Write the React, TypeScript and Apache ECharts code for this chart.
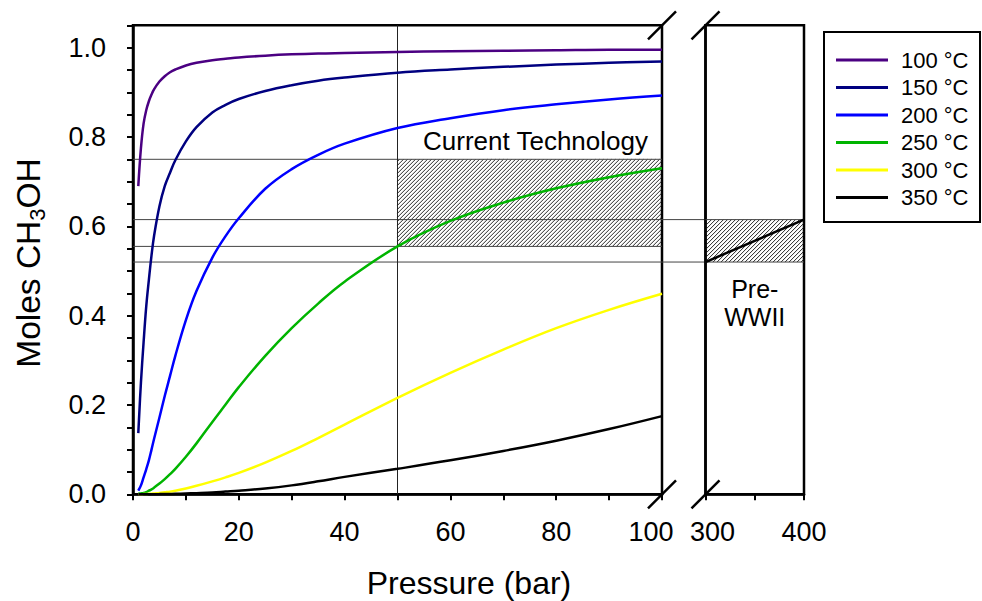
import React, { useEffect, useRef } from 'react';
import * as echarts from 'echarts';

const FONT = '"Liberation Sans", Arial, Helvetica, sans-serif';

// Pressure (bar) sample points for the low-pressure panel
const pressures = [1, 1.5, 2, 2.5, 3, 3.5, 4, 5, 6, 7, 8, 10, 12, 15, 17.5, 20, 25, 30, 35, 40, 50, 60, 70, 80, 90, 100];
// Moles CH3OH at equilibrium for each temperature
const moles100 = [0.69, 0.775, 0.83, 0.86, 0.88, 0.895, 0.907, 0.924, 0.936, 0.945, 0.951, 0.96, 0.966, 0.972, 0.975, 0.978, 0.982, 0.985, 0.987, 0.988, 0.99, 0.992, 0.993, 0.994, 0.995, 0.995];
const moles150 = [0.137, 0.25, 0.34, 0.42, 0.48, 0.535, 0.58, 0.645, 0.69, 0.72, 0.748, 0.79, 0.822, 0.855, 0.872, 0.885, 0.903, 0.916, 0.926, 0.933, 0.944, 0.951, 0.957, 0.962, 0.966, 0.969];
const moles200 = [0.008, 0.02, 0.038, 0.056, 0.076, 0.1, 0.125, 0.172, 0.22, 0.265, 0.31, 0.39, 0.455, 0.53, 0.578, 0.618, 0.684, 0.728, 0.76, 0.785, 0.82, 0.842, 0.86, 0.873, 0.884, 0.893];
const moles250 = [0.001, 0.002, 0.003, 0.005, 0.008, 0.011, 0.015, 0.024, 0.034, 0.045, 0.057, 0.084, 0.114, 0.162, 0.201, 0.24, 0.31, 0.372, 0.427, 0.476, 0.555, 0.612, 0.653, 0.685, 0.71, 0.73];
const moles300 = [0, 0, 0.0005, 0.0008, 0.001, 0.0015, 0.002, 0.003, 0.0045, 0.006, 0.008, 0.013, 0.019, 0.029, 0.038, 0.048, 0.071, 0.097, 0.126, 0.156, 0.216, 0.272, 0.324, 0.372, 0.413, 0.449];
const moles350 = [0, 0, 0, 0, 0, 0, 0.0002, 0.0004, 0.0006, 0.0008, 0.001, 0.0017, 0.0025, 0.004, 0.006, 0.008, 0.013, 0.02, 0.029, 0.039, 0.057, 0.076, 0.097, 0.12, 0.146, 0.175];

const seriesNames = ['100 °C', '150 °C', '200 °C', '250 °C', '300 °C', '350 °C'];
const seriesColors = ['#4B0082', '#000080', '#0000FF', '#00B400', '#FFFF00', '#000000'];
const seriesValues = [moles100, moles150, moles200, moles250, moles300, moles350];

// High-pressure panel (pre-WWII process), 350 °C
const preWarPressures = [300, 400];
const preWar350 = [0.52, 0.615];

// Hatched operating windows: [pMin, pMax, molesMin, molesMax]
const currentTechBox = [50, 100, 0.555, 0.75];
const preWarBox = [300, 400, 0.52, 0.615];

// Guide lines
const refLevels = [0.75, 0.615, 0.555, 0.52];
const bridgedLevels = [0.615, 0.52];
const refPressure = 50;

// Axis ranges
const yMax = 1.05;
const yTickStep = 0.05;
const leftRange = [0, 100];
const rightRange = [300, 400];

const hatchRender = (params: any, api: any) => {
  const tl = api.coord([api.value(0), api.value(3)]);
  const br = api.coord([api.value(1), api.value(2)]);
  const L = tl[0], T = tl[1], R = br[0], B = br[1];
  const step = 4;
  const children: any[] = [];
  for (let c = L + T + step * 0.5; c < R + B; c += step) {
    const xs = Math.max(L, c - B);
    const xe = Math.min(R, c - T);
    if (xe <= xs) continue;
    children.push({
      type: 'line',
      shape: { x1: xs, y1: c - xs, x2: xe, y2: c - xe },
      style: { stroke: '#111', lineWidth: 0.9 },
    });
  }
  return { type: 'group', children };
};

function measure(text: string, size: number) {
  const cv = document.createElement('canvas');
  const ctx = cv.getContext('2d')!;
  ctx.font = `${size}px "Liberation Sans", Arial, sans-serif`;
  return ctx.measureText(text).width;
}

export default function App() {
  const ref = useRef<HTMLDivElement>(null);
  useEffect(() => {
    if (!ref.current) return;
    const chart = echarts.init(ref.current, undefined, { renderer: 'svg' });

    const axisLineStyle = { color: '#000', width: 2.5 };
    const labelBase = { fontSize: 27, fontFamily: FONT, color: '#000' };

    const curveSeries = seriesNames.map((name, i) => ({
      name,
      type: 'line',
      xAxisIndex: 0,
      yAxisIndex: 0,
      data: pressures.map((p, j) => [p, seriesValues[i][j]]),
      symbol: 'none',
      showSymbol: false,
      smooth: 0.4,
      lineStyle: { color: seriesColors[i], width: 2.5 },
      itemStyle: { color: seriesColors[i] },
      z: 5,
      silent: true,
    }));

    const refSeries: any[] = refLevels.map((lv) => ({
      type: 'line',
      xAxisIndex: 0,
      yAxisIndex: 0,
      data: [[leftRange[0], lv], [leftRange[1], lv]],
      symbol: 'none',
      lineStyle: { color: '#444', width: 1 },
      z: 2,
      silent: true,
    }));
    refSeries.push({
      type: 'line',
      xAxisIndex: 0,
      yAxisIndex: 0,
      data: [[refPressure, 0], [refPressure, yMax]],
      symbol: 'none',
      lineStyle: { color: '#222', width: 1 },
      z: 2,
      silent: true,
    });
    bridgedLevels.forEach((lv) => {
      refSeries.push({
        type: 'line',
        xAxisIndex: 1,
        yAxisIndex: 1,
        data: [[rightRange[0], lv], [rightRange[1], lv]],
        symbol: 'none',
        lineStyle: { color: '#444', width: 1 },
        z: 2,
        silent: true,
      });
    });

    const option: any = {
      animation: false,
      backgroundColor: '#fff',
      grid: [
        { left: 133, top: 25.3, width: 529, height: 469, show: true, borderColor: '#000', borderWidth: 2.5, containLabel: false },
        { left: 705.5, top: 25.3, width: 98.5, height: 469, show: true, borderColor: '#000', borderWidth: 2.5, containLabel: false },
      ],
      xAxis: [
        {
          type: 'value', gridIndex: 0, min: leftRange[0], max: leftRange[1], interval: 10,
          axisLine: { show: true, lineStyle: axisLineStyle },
          axisTick: { show: true, length: 6, lineStyle: { color: '#000', width: 2 } },
          splitLine: { show: false },
          axisLabel: {
            ...labelBase, margin: 24, showMinLabel: true, showMaxLabel: true,
            formatter: (v: number) => (Math.round(v) % 20 === 0 ? (v === 100 ? '{r|100}' : String(v)) : ''),
            rich: { r: { ...labelBase, padding: [0, 22, 0, 0] } },
          },
        },
        {
          type: 'value', gridIndex: 1, min: rightRange[0], max: rightRange[1], interval: 50,
          axisLine: { show: true, lineStyle: axisLineStyle },
          axisTick: { show: true, length: 6, lineStyle: { color: '#000', width: 2 } },
          splitLine: { show: false },
          axisLabel: {
            ...labelBase, margin: 24, showMinLabel: true, showMaxLabel: true,
            formatter: (v: number) => (v === 300 ? '{l|300}' : v === 400 ? '400' : ''),
            rich: { l: { ...labelBase, padding: [0, 0, 0, 14] } },
          },
        },
      ],
      yAxis: [
        {
          type: 'value', gridIndex: 0, min: 0, max: yMax, interval: yTickStep,
          axisLine: { show: true, lineStyle: axisLineStyle },
          axisTick: { show: true, length: 6, lineStyle: { color: '#000', width: 2 } },
          splitLine: { show: false },
          axisLabel: {
            ...labelBase, margin: 27, showMaxLabel: true,
            formatter: (v: number) => (Math.round(v * 100) % 20 === 0 ? v.toFixed(1) : ''),
          },
        },
        {
          type: 'value', gridIndex: 1, min: 0, max: yMax, interval: yTickStep,
          axisLine: { show: true, lineStyle: axisLineStyle },
          axisTick: { show: false },
          splitLine: { show: false },
          axisLabel: { show: false },
        },
      ],
      legend: {
        data: seriesNames.map((n) => ({ name: n, icon: 'rect' })),
        orient: 'vertical',
        left: 831,
        top: 44,
        itemWidth: 52,
        itemHeight: 3,
        itemGap: 5.5,
        selectedMode: false,
        textStyle: { fontSize: 22, fontFamily: FONT, color: '#000', padding: [0, 0, 0, 8] },
      },
      series: [
        ...refSeries,
        {
          type: 'custom', xAxisIndex: 0, yAxisIndex: 0, renderItem: hatchRender,
          data: [currentTechBox], encode: { x: [0, 1], y: [2, 3] }, z: 1, silent: true,
        },
        {
          type: 'custom', xAxisIndex: 1, yAxisIndex: 1, renderItem: hatchRender,
          data: [preWarBox], encode: { x: [0, 1], y: [2, 3] }, z: 1, silent: true,
        },
        ...curveSeries,
        {
          name: '350 °C',
          type: 'line',
          xAxisIndex: 1,
          yAxisIndex: 1,
          data: preWarPressures.map((p, j) => [p, preWar350[j]]),
          symbol: 'none',
          lineStyle: { color: '#000', width: 2.5 },
          itemStyle: { color: '#000' },
          z: 5,
          silent: true,
        },
      ],
    };
    chart.setOption(option);

    const c0 = (v: number[]) => chart.convertToPixel({ gridIndex: 0 } as any, v) as number[];
    const c1 = (v: number[]) => chart.convertToPixel({ gridIndex: 1 } as any, v) as number[];

    const lTop = c0([leftRange[1], yMax]);
    const lBot = c0([leftRange[1], 0]);
    const rTop = c1([rightRange[0], yMax]);
    const rBot = c1([rightRange[0], 0]);
    const slash = (p: number[]) => ({
      type: 'line',
      shape: { x1: p[0] - 14, y1: p[1] + 14, x2: p[0] + 14, y2: p[1] - 14 },
      style: { stroke: '#000', lineWidth: 2.5 },
      z: 100,
      silent: true,
    });

    const gapLines = bridgedLevels.map((lv) => {
      const y = c0([leftRange[1], lv])[1];
      return {
        type: 'line',
        shape: { x1: lBot[0], y1: y, x2: rBot[0], y2: y },
        style: { stroke: '#444', lineWidth: 1 },
        silent: true,
      };
    });

    const ctPos = c0([currentTechBox[1], currentTechBox[3]]);
    const pwPos = c1([(preWarBox[0] + preWarBox[1]) / 2, preWarBox[2]]);

    // Y title pieces
    const ySize = 33.5, subSize = 22;
    const partA = 'Moles CH', partB = '3', partC = 'OH';
    const wA = measure(partA, ySize), wB = measure(partB, subSize), wC = measure(partC, ySize);
    const W = wA + wB + wC;
    const x0 = -W / 2;

    chart.setOption({
      graphic: [
        slash(lTop), slash(lBot), slash(rTop), slash(rBot),
        ...gapLines,
        {
          type: 'text', x: ctPos[0] - 14, y: ctPos[1] - 5, silent: true,
          style: { text: 'Current Technology', font: `26px ${FONT}`, fill: '#000', textAlign: 'right', textVerticalAlign: 'bottom' },
        },
        {
          type: 'text', x: pwPos[0], y: pwPos[1] + 13, silent: true,
          style: { text: 'Pre-\nWWII', font: `25px ${FONT}`, fill: '#000', textAlign: 'center', textVerticalAlign: 'top', lineHeight: 28 },
        },
        {
          type: 'rect', shape: { x: 824, y: 32, width: 156, height: 190 }, silent: true,
          style: { fill: 'none', stroke: '#000', lineWidth: 2 }, z: -1,
        },
        {
          type: 'text', x: 469, y: 583, silent: true,
          style: { text: 'Pressure (bar)', font: `32px ${FONT}`, fill: '#000', textAlign: 'center', textVerticalAlign: 'middle' },
        },
        {
          type: 'group', x: 28, y: 263, rotation: Math.PI / 2, silent: true,
          children: [
            { type: 'text', x: x0, y: 0, style: { text: partA, font: `${ySize}px ${FONT}`, fill: '#000', textAlign: 'left', textVerticalAlign: 'middle' } },
            { type: 'text', x: x0 + wA, y: 9, style: { text: partB, font: `${subSize}px ${FONT}`, fill: '#000', textAlign: 'left', textVerticalAlign: 'middle' } },
            { type: 'text', x: x0 + wA + wB, y: 0, style: { text: partC, font: `${ySize}px ${FONT}`, fill: '#000', textAlign: 'left', textVerticalAlign: 'middle' } },
          ],
        },
      ],
    });

    return () => chart.dispose();
  }, []);

  return (
    <div
      ref={ref}
      style={{ position: 'fixed', left: 0, top: 0, width: 982, height: 601, background: '#fff' }}
    />
  );
}
